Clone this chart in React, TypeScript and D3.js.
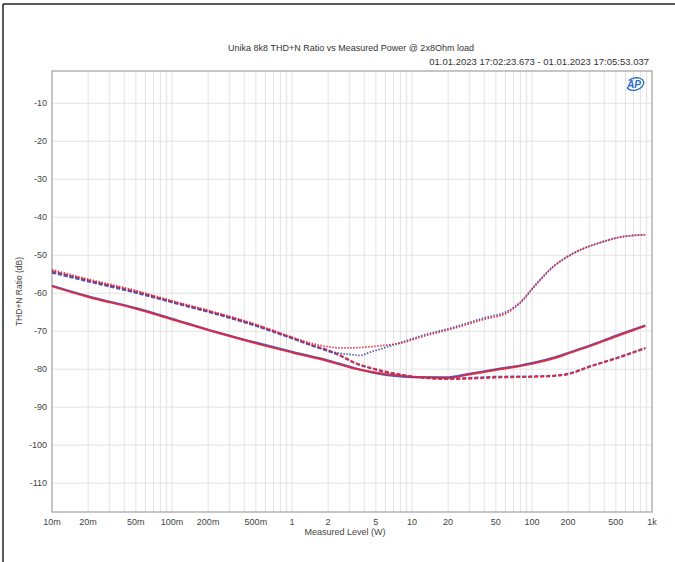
import React from 'react';
import * as d3 from 'd3';

const solidP = [0.01, 0.02, 0.05, 0.1, 0.2, 0.5, 1, 2, 3, 5, 10, 20, 30, 50, 80, 100, 150, 200, 300, 500, 880];
const solidRed = [-58.2, -61.0, -64.1, -66.9, -69.7, -73.2, -75.6, -77.9, -79.5, -80.9, -82.0, -82.3, -81.4, -80.2, -79.2, -78.6, -77.2, -75.9, -74.0, -71.4, -68.6];
const solidBlue = [-58.0, -60.8, -63.9, -66.7, -69.6, -73.0, -75.4, -77.7, -79.3, -81.1, -82.1, -82.1, -81.2, -80.0, -79.0, -78.4, -77.0, -75.7, -73.8, -71.2, -68.5];

const dashP = [0.01, 0.02, 0.05, 0.1, 0.2, 0.5, 1, 1.5, 2, 2.5, 3.4, 5, 8, 10, 20, 30, 50, 100, 150, 200, 300, 500, 880];
const dashRed = [-54.2, -56.6, -59.6, -62.2, -64.7, -68.4, -71.7, -73.8, -75.0, -76.3, -78.4, -80.0, -81.4, -81.9, -82.6, -82.5, -82.2, -82.0, -81.8, -81.3, -79.4, -77.2, -74.5];
const dashBlue = [-54.6, -56.9, -59.9, -62.4, -64.9, -68.6, -71.9, -73.9, -75.2, -76.4, -78.5, -80.1, -81.5, -82.0, -82.5, -82.3, -82.0, -81.9, -81.7, -81.2, -79.3, -77.1, -74.4];

const dotP = [0.01, 0.02, 0.05, 0.1, 0.2, 0.5, 1, 1.5, 2, 2.5, 3.2, 3.7, 4.5, 6, 8.4, 12, 22, 42, 60, 79, 110, 150, 220, 390, 540, 880];
const dotRed = [-53.8, -56.3, -59.3, -62.0, -64.5, -68.2, -71.6, -73.3, -74.1, -74.4, -74.4, -74.3, -74.1, -73.7, -73.0, -71.5, -69.3, -66.7, -65.4, -62.7, -57.5, -53.1, -49.6, -46.5, -45.3, -44.6];
const dotBlue = [-54.3, -56.7, -59.7, -62.3, -64.8, -68.5, -71.8, -73.8, -75.2, -75.8, -76.2, -76.4, -75.5, -74.3, -72.8, -71.2, -69.0, -66.3, -65.0, -62.5, -57.3, -53.0, -49.5, -46.4, -45.2, -44.6];

const yTicks = [-10, -20, -30, -40, -50, -60, -70, -80, -90, -100, -110];
const xTicks = [0.01, 0.02, 0.05, 0.1, 0.2, 0.5, 1, 2, 5, 10, 20, 50, 100, 200, 500, 1000];
const xTickLabels = ['10m', '20m', '50m', '100m', '200m', '500m', '1', '2', '5', '10', '20', '50', '100', '200', '500', '1k'];

const RED = '#e4233b';
const BLUE = '#3a4bb0';

const W = 675;
const H = 562;
const M = { left: 52, right: 652, top: 71, bottom: 512 };
const FONT = '"Liberation Sans", Arial, sans-serif';

export default function App() {
  const x = d3.scaleLog().domain([0.01, 1000]).range([M.left, M.right]);
  const y = d3.scaleLinear().domain([-1.5, -117.6]).range([M.top, M.bottom]);

  const minor: number[] = [];
  for (let e = -2; e < 3; e++) {
    for (let k = 1; k <= 9; k++) minor.push(k * Math.pow(10, e));
  }

  const line = (ps: number[], vs: number[]) =>
    d3.line<number>()
      .x((_, i) => x(ps[i]))
      .y((d) => y(d))
      .curve(d3.curveMonotoneX)(vs) || '';

  const series = [
    { p: solidP, v: solidBlue, c: BLUE, w: 2, dash: undefined },
    { p: solidP, v: solidRed, c: RED, w: 2, dash: undefined },
    { p: dashP, v: dashBlue, c: BLUE, w: 2, dash: '4 2' },
    { p: dashP, v: dashRed, c: RED, w: 2, dash: '4 2' },
    { p: dotP, v: dotBlue, c: BLUE, w: 1.7, dash: '1.5 1.5' },
    { p: dotP, v: dotRed, c: RED, w: 1.7, dash: '1.5 1.5' },
  ];

  return (
    <svg width={W} height={H} style={{ position: 'absolute', left: 0, top: 0, background: '#fff' }} fontFamily={FONT}>
      {/* outer frame (only top and left edges visible) */}
      <line x1={3} y1={4} x2={W} y2={4} stroke="#222" strokeWidth={1.5} />
      <line x1={3} y1={4} x2={3} y2={H} stroke="#222" strokeWidth={1.5} />

      <text x={351} y={51} textAnchor="middle" fontSize={9} fill="#333">
        Unika 8k8 THD+N Ratio vs Measured Power @ 2x8Ohm load
      </text>
      <text x={649} y={65} textAnchor="end" fontSize={9.5} fill="#333">
        01.01.2023 17:02:23.673 - 01.01.2023 17:05:53.037
      </text>

      {/* grid */}
      <g stroke="#e2e2e2" strokeWidth={1}>
        {minor.filter((m) => m > 0.01 && m < 1000).map((m, i) => (
          <line key={'v' + i} x1={x(m)} x2={x(m)} y1={M.top} y2={M.bottom} />
        ))}
        {yTicks.map((t) => (
          <line key={'h' + t} x1={M.left} x2={M.right} y1={y(t)} y2={y(t)} />
        ))}
      </g>
      <rect x={M.left} y={M.top} width={M.right - M.left} height={M.bottom - M.top} fill="none" stroke="#a0a0a0" strokeWidth={1.2} />

      {/* curves */}
      <g fill="none" strokeLinejoin="round">
        {series.map((s, i) => (
          <path key={i} d={line(s.p, s.v)} stroke={s.c} strokeWidth={s.w} strokeDasharray={s.dash} strokeOpacity={0.9} />
        ))}
      </g>

      {/* y axis */}
      <g fontSize={9} fill="#444" textAnchor="end">
        {yTicks.map((t) => (
          <text key={t} x={47} y={y(t) + 3}>{t}</text>
        ))}
      </g>
      <text transform={`translate(22,${(M.top + M.bottom) / 2}) rotate(-90)`} textAnchor="middle" fontSize={8.5} fill="#444">
        THD+N Ratio (dB)
      </text>

      {/* x axis */}
      <g fontSize={9} fill="#444" textAnchor="middle">
        {xTicks.map((t, i) => (
          <text key={t} x={x(t)} y={525}>{xTickLabels[i]}</text>
        ))}
      </g>
      <text x={345} y={535} textAnchor="middle" fontSize={9} fill="#444">
        Measured Level (W)
      </text>

      {/* AP logo */}
      <g transform="translate(635,84)">
        <ellipse cx={0} cy={0} rx={9} ry={6} fill="none" stroke="#2b6cc4" strokeWidth={1.3} strokeDasharray="22 8" transform="rotate(-15)" />
        <text x={-1} y={3.5} textAnchor="middle" fontSize={10} fontStyle="italic" fontWeight="bold" fill="#2b6cc4">AP</text>
      </g>
    </svg>
  );
}
